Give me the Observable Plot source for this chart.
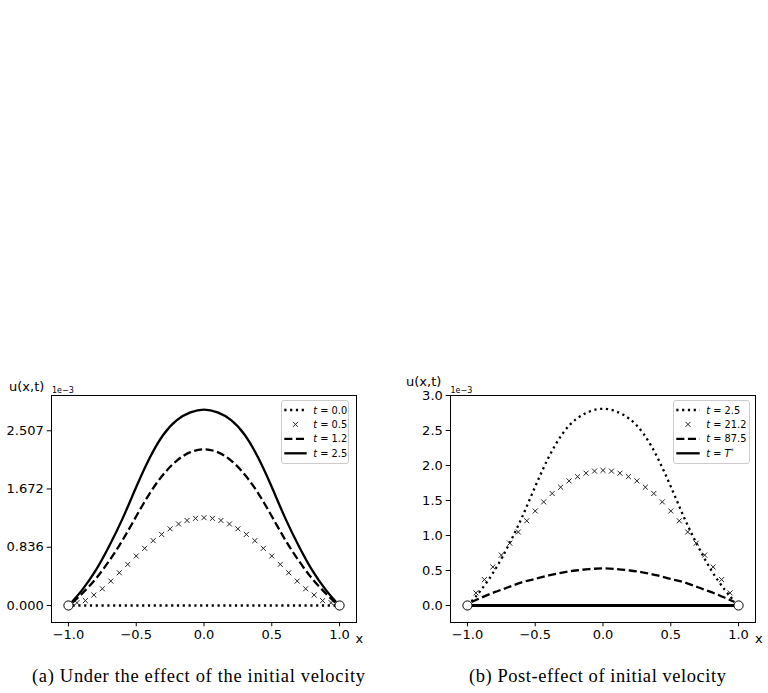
<!DOCTYPE html>
<html><head><meta charset="utf-8">
<script src="https://cdn.jsdelivr.net/npm/d3@7"></script>
<script src="https://cdn.jsdelivr.net/npm/@observablehq/plot@0.6"></script>
<style>
body{margin:0;background:#fff;}
#root{position:relative;width:768px;height:693px;background:#fff;overflow:hidden}
.panel{position:absolute;top:360px}
#overlay{position:absolute;left:0;top:0;pointer-events:none}
</style></head><body>
<div id="root">
  <div id="pa" class="panel" style="left:0"></div>
  <div id="pb" class="panel" style="left:384px"></div>
</div>
<script>
// ---------- data (u in units of 1e-3) ----------
const xCurve = [-0.97,-0.9,-0.8,-0.7,-0.6,-0.5,-0.4,-0.3,-0.2,-0.1,0,0.1,0.2,0.3,0.4,0.5,0.6,0.7,0.8,0.9,0.97];
const u_t25  = [0.06,0.22,0.50,0.85,1.25,1.70,2.12,2.45,2.66,2.77,2.81,2.77,2.66,2.45,2.12,1.70,1.25,0.85,0.50,0.22,0.06];
const u_t12  = [0.04,0.17,0.38,0.64,0.94,1.28,1.61,1.88,2.08,2.20,2.24,2.20,2.08,1.88,1.61,1.28,0.94,0.64,0.38,0.17,0.04];
const u_t875 = [0.05,0.11,0.19,0.26,0.33,0.38,0.43,0.47,0.50,0.52,0.53,0.52,0.50,0.47,0.43,0.38,0.33,0.26,0.19,0.11,0.05];
const xFlat  = [-0.97, 0.97];
const u_t0   = [0, 0];
const u_tStar = [0, 0];
const xMarks = [-0.9375,-0.875,-0.8125,-0.75,-0.6875,-0.625,-0.5625,-0.5,-0.4375,-0.375,-0.3125,-0.25,-0.1875,-0.125,-0.0625,0,
                0.0625,0.125,0.1875,0.25,0.3125,0.375,0.4375,0.5,0.5625,0.625,0.6875,0.75,0.8125,0.875,0.9375];
const u_t05  = [0.04,0.07,0.15,0.24,0.35,0.47,0.59,0.71,0.82,0.93,1.02,1.10,1.17,1.22,1.25,1.26,
                1.25,1.22,1.17,1.10,1.02,0.93,0.82,0.71,0.59,0.47,0.35,0.24,0.15,0.07,0.04];
const u_t212 = [0.18,0.37,0.55,0.72,0.89,1.05,1.21,1.35,1.48,1.60,1.69,1.78,1.84,1.89,1.92,1.93,
                1.92,1.89,1.84,1.78,1.69,1.60,1.48,1.35,1.21,1.05,0.89,0.72,0.55,0.37,0.18];
const xEnds = [-1, 1];
const uEnds = [0, 0];
const xTicks  = [-1, -0.5, 0, 0.5, 1];
const yTicksA = [0, 0.836, 1.672, 2.507];
const yTicksB = [0, 0.5, 1, 1.5, 2, 2.5, 3];
const legendA = ["0.0", "0.5", "1.2", "2.5"];
const legendB = ["2.5", "21.2", "87.5", "T*"];
const yLabel = "u(x,t)";
const xLabel = "x";
const expLabel = "1e\u22123";
const captionA = "(a) Under the effect of the initial velocity";
const captionB = "(b) Post-effect of initial velocity";

// ---------- helpers ----------
const rows = (xs, us) => xs.map((x, i) => ({x, u: us[i]}));
const LW = 2.3;
const DOT = "2.2,3.6";
const DASH = "8.1,3.5";
const CURVE = "natural";

const solid  = (d, w = LW) => Plot.line(d, {x: "x", y: "u", stroke: "#000", strokeWidth: w, curve: CURVE});
const dashed = d => Plot.line(d, {x: "x", y: "u", stroke: "#000", strokeWidth: LW, strokeDasharray: DASH, strokeLinecap: "butt", curve: CURVE});
const dotted = d => Plot.line(d, {x: "x", y: "u", stroke: "#000", strokeWidth: LW, strokeDasharray: DOT, strokeLinecap: "butt", curve: CURVE});
const crosses = d => Plot.dot(d, {x: "x", y: "u", symbol: "times", r: 2.4, stroke: "#222", strokeWidth: 1});
const ends = () => Plot.dot(rows(xEnds, uEnds), {x: "x", y: "u", r: 4.6, fill: "#fff", stroke: "#000", strokeWidth: 1});

function panel({yDomain, yTicks, yFmt, marks, marginLeft, marginRight}) {
  return Plot.plot({
    width: 384, height: 300,
    marginTop: 35, marginBottom: 38, marginLeft, marginRight,
    x: {domain: [-1.125, 1.125]},
    y: {domain: yDomain},
    style: {fontFamily: "'DejaVu Sans', sans-serif", fontSize: "13px", color: "#000", background: "transparent", overflow: "visible"},
    marks: [
      ...marks,
      ends(),
      Plot.frame({stroke: "#000", strokeWidth: 1}),
      Plot.axisX({ticks: xTicks, tickFormat: d3.format(".1f"), tickSize: 4.3, tickPadding: 2.5, label: null}),
      Plot.axisY({ticks: yTicks, tickFormat: yFmt, tickSize: 4.3, tickPadding: 3.4, label: null})
    ]
  });
}

const plotA = panel({
  yDomain: [-0.244, 3.013], yTicks: yTicksA, yFmt: d3.format(".3f"),
  marginLeft: 51, marginRight: 28,
  marks: [
    dotted(rows(xFlat, u_t0)),
    crosses(rows(xMarks, u_t05)),
    dashed(rows(xCurve, u_t12)),
    solid(rows(xCurve, u_t25))
  ]
});
document.getElementById("pa").appendChild(plotA);

const plotB = panel({
  yDomain: [-0.243, 3.0], yTicks: yTicksB, yFmt: d3.format(".1f"),
  marginLeft: 66, marginRight: 13,
  marks: [
    dotted(rows(xCurve, u_t25)),
    crosses(rows(xMarks, u_t212)),
    dashed(rows(xCurve, u_t875)),
    solid(rows(xFlat, u_tStar), 2.8)
  ]
});
document.getElementById("pb").appendChild(plotB);

// ---------- overlay: axis labels, legends, captions ----------
const svg = d3.select("#root").append("svg").attr("id", "overlay")
  .attr("width", 768).attr("height", 693)
  .style("font-family", "'DejaVu Sans', sans-serif");

function axisLabels(ulx, uly, ex, ey, xx, xy) {
  svg.append("text").attr("x", ulx).attr("y", uly).attr("font-size", 13).text(yLabel);
  svg.append("text").attr("x", ex).attr("y", ey).attr("font-size", 8).text(expLabel);
  svg.append("text").attr("x", xx).attr("y", xy).attr("font-size", 13).text(xLabel);
}
axisLabels(9, 391, 52, 392.5, 355.5, 643);
axisLabels(406, 386, 450.5, 392.5, 755, 643);

const styles = ["dotted", "cross", "dashed", "solid"];
function legend(x0, y0, w, h, s0, s1, tx, labels) {
  const g = svg.append("g");
  g.append("rect").attr("x", x0 + 0.5).attr("y", y0 + 0.5).attr("width", w).attr("height", h)
    .attr("rx", 2.5).attr("fill", "rgba(255,255,255,0.8)").attr("stroke", "#cccccc").attr("stroke-width", 1);
  const rowY = [410, 424.4, 438.8, 453.3];
  labels.forEach((lab, i) => {
    const y = rowY[i], st = styles[i];
    if (st === "cross") {
      const cx = (s0 + s1) / 2, r = 2.5;
      g.append("path").attr("d", `M${cx - r},${y - r}L${cx + r},${y + r}M${cx - r},${y + r}L${cx + r},${y - r}`)
        .attr("stroke", "#222").attr("stroke-width", 1);
    } else {
      const l = g.append("line").attr("x1", s0).attr("x2", s1).attr("y1", y).attr("y2", y)
        .attr("stroke", "#000").attr("stroke-width", LW);
      if (st === "dotted") l.attr("stroke-dasharray", DOT);
      if (st === "dashed") l.attr("stroke-dasharray", DASH);
    }
    const t = g.append("text").attr("x", tx).attr("y", y + 3.6).attr("font-size", 9.8);
    t.append("tspan").attr("font-style", "italic").text("t");
    if (lab === "T*") {
      t.append("tspan").text(" = ");
      t.append("tspan").attr("font-style", "italic").text("T");
      t.append("tspan").attr("font-size", 6.5).attr("dy", -4).text("*");
    } else {
      t.append("tspan").text(" = " + lab);
    }
  });
}
legend(281, 400, 67, 63, 284.3, 306.7, 313.3, legendA);
legend(673, 400, 76, 63, 676.3, 699.7, 706.3, legendB);

function caption(text, x0, x1, y) {
  svg.append("text").attr("x", x0).attr("y", y)
    .attr("font-family", "'Liberation Serif', serif").attr("font-size", 18.5)
    .attr("textLength", x1 - x0).attr("lengthAdjust", "spacing").text(text);
}
caption(captionA, 32, 365, 682);
caption(captionB, 469, 726, 682);
</script>
</body></html>
